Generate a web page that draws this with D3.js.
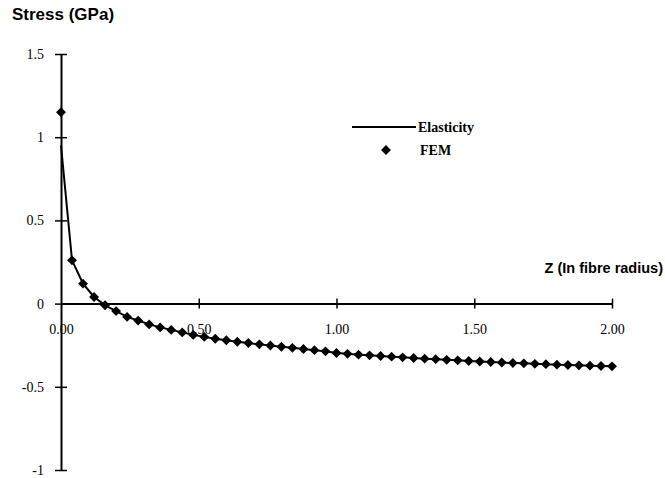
<!DOCTYPE html>
<html>
<head>
<meta charset="utf-8">
<script src="https://cdn.jsdelivr.net/npm/d3@7"></script>
<style>
  body { margin: 0; background: #fff; }
  svg { display: block; }
</style>
</head>
<body>
<svg width="665" height="478"></svg>
<script>
// z positions (in fibre radius) of the FEM nodes
const zValues = [
    0.00, 0.04, 0.08, 0.12, 0.16, 0.20, 0.24, 0.28, 0.32, 0.36,
    0.40, 0.44, 0.48, 0.52, 0.56, 0.60, 0.64, 0.68, 0.72, 0.76,
    0.80, 0.84, 0.88, 0.92, 0.96, 1.00, 1.04, 1.08, 1.12, 1.16,
    1.20, 1.24, 1.28, 1.32, 1.36, 1.40, 1.44, 1.48, 1.52, 1.56,
    1.60, 1.64, 1.68, 1.72, 1.76, 1.80, 1.84, 1.88, 1.92, 1.96, 2.00
];
// stress (GPa), FEM
const femStress = [
    1.150, 0.260, 0.120, 0.040, -0.010, -0.045, -0.080, -0.102, -0.125, -0.143,
    -0.158, -0.173, -0.188, -0.200, -0.211, -0.220, -0.229, -0.237, -0.245, -0.252,
    -0.259, -0.266, -0.273, -0.280, -0.287, -0.297, -0.302, -0.307, -0.311, -0.315,
    -0.319, -0.323, -0.327, -0.331, -0.334, -0.338, -0.341, -0.345, -0.348, -0.351,
    -0.354, -0.357, -0.359, -0.362, -0.364, -0.367, -0.369, -0.371, -0.373, -0.375, -0.377
];
// stress (GPa), elasticity solution
const elasticityStress = [
    0.950, 0.260, 0.120, 0.040, -0.010, -0.045, -0.080, -0.102, -0.125, -0.143,
    -0.158, -0.173, -0.188, -0.200, -0.211, -0.220, -0.229, -0.237, -0.245, -0.252,
    -0.259, -0.266, -0.273, -0.280, -0.287, -0.297, -0.302, -0.307, -0.311, -0.315,
    -0.319, -0.323, -0.327, -0.331, -0.334, -0.338, -0.341, -0.345, -0.348, -0.351,
    -0.354, -0.357, -0.359, -0.362, -0.364, -0.367, -0.369, -0.371, -0.373, -0.375, -0.377
];
const yTicks = [1.5, 1, 0.5, 0, -0.5, -1];
const yTickLabels = ['1.5', '1', '0.5', '0', '-0.5', '-1'];
const xTicks = [0, 0.5, 1, 1.5, 2];
const xTickLabels = ['0.00', '0.50', '1.00', '1.50', '2.00'];

const svg = d3.select('svg');
const serif = '"Liberation Serif", "Times New Roman", serif';
const sans = '"Liberation Sans", Arial, sans-serif';

const x = d3.scaleLinear().domain([0, 2]).range([61, 612]);
const y = d3.scaleLinear().domain([-1, 1.5]).range([470, 54]);

// *** axes ***
const yAxis = svg.append('g')
    .attr('transform', `translate(${x(0)},0)`)
    .call(d3.axisLeft(y)
        .tickValues(yTicks)
        .tickFormat((d, i) => yTickLabels[i])
        .tickSize(6)
        .tickSizeOuter(0)
        .tickPadding(11));
const xAxis = svg.append('g')
    .attr('transform', `translate(0,${y(0)})`)
    .call(d3.axisBottom(x)
        .tickValues(xTicks)
        .tickFormat((d, i) => xTickLabels[i])
        .tickSize(5)
        .tickSizeOuter(0)
        .tickPadding(15));

[yAxis, xAxis].forEach(g => {
    g.select('.domain').attr('stroke', '#000').attr('stroke-width', 2);
    g.selectAll('.tick text')
        .attr('fill', '#000')
        .style('font-family', serif)
        .style('font-size', '14px');
});
yAxis.selectAll('.tick line').attr('x1', 6).attr('x2', -6).attr('stroke-width', 1.5);
xAxis.selectAll('.tick line').attr('y1', -5).attr('y2', 5).attr('stroke-width', 1.5);
xAxis.selectAll('.tick').filter(d => d === 0).select('line').remove();

// *** series ***
const pts = zValues.map((z, i) => ({ z, fem: femStress[i], ela: elasticityStress[i] }));

svg.append('path')
    .datum(pts)
    .attr('fill', 'none')
    .attr('stroke', '#000')
    .attr('stroke-width', 2)
    .attr('d', d3.line().x(d => x(d.z)).y(d => y(d.ela)));

const diamond = d3.symbol().type(d3.symbolDiamond2).size(62);
svg.append('g')
    .selectAll('path')
    .data(pts)
    .join('path')
    .attr('transform', d => `translate(${x(d.z)},${y(d.fem)})`)
    .attr('d', diamond)
    .attr('fill', '#000');

// *** titles ***
svg.append('text')
    .attr('x', 12).attr('y', 20)
    .style('font-family', sans)
    .style('font-size', '17px')
    .style('font-weight', 'bold')
    .text('Stress (GPa)');

svg.append('text')
    .attr('x', 663).attr('y', 273)
    .attr('text-anchor', 'end')
    .style('font-family', sans)
    .style('font-size', '14.5px')
    .style('font-weight', 'bold')
    .text('Z (In fibre radius)');

// *** legend ***
const legend = svg.append('g');
legend.append('line')
    .attr('x1', 352).attr('x2', 416)
    .attr('y1', 127).attr('y2', 127)
    .attr('stroke', '#000').attr('stroke-width', 2);
legend.append('text')
    .attr('x', 418).attr('y', 132)
    .style('font-family', serif)
    .style('font-size', '14px')
    .style('font-weight', 'bold')
    .text('Elasticity');
legend.append('path')
    .attr('transform', 'translate(386,150)')
    .attr('d', diamond)
    .attr('fill', '#000');
legend.append('text')
    .attr('x', 420).attr('y', 155)
    .style('font-family', serif)
    .style('font-size', '14px')
    .style('font-weight', 'bold')
    .text('FEM');
</script>
</body>
</html>
